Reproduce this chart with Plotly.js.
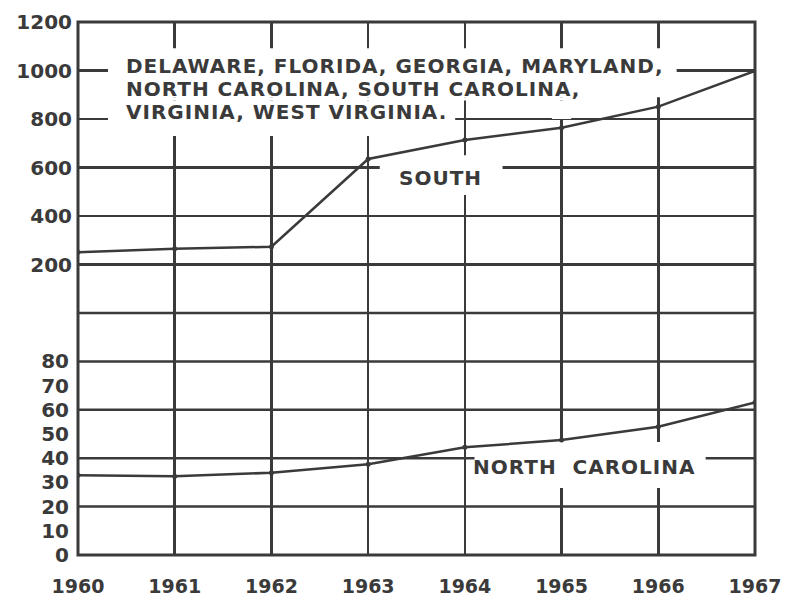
<!DOCTYPE html>
<html>
<head>
<meta charset="utf-8">
<script src="https://cdn.plot.ly/plotly-3.0.1.min.js"></script>
<style>html,body{margin:0;padding:0;background:#fff;}#chart{width:786px;height:600px;}
.annotation-text{letter-spacing:1px;}</style>
</head>
<body>
<div id="chart"></div>
<script>
// ---- data ----
const years = [1960, 1961, 1962, 1963, 1964, 1965, 1966, 1967];
const southValues = [251, 265, 273, 635, 713, 764, 851, 998];
const northCarolinaValues = [33, 32.5, 34, 37.5, 44.5, 47.5, 53, 63];
const upperTicks = [200, 400, 600, 800, 1000, 1200];
const lowerTicks = [0, 10, 20, 30, 40, 50, 60, 70, 80];
const lowerGrid = [20, 40, 60, 80];
const statesLines = ["DELAWARE, FLORIDA, GEORGIA, MARYLAND,", "NORTH CAROLINA, SOUTH CAROLINA,", "VIRGINIA, WEST VIRGINIA."];

const ink = '#3a3a3a';
const fontBase = {family: 'DejaVu Sans', size: 20, color: ink, weight: 'bold'};
const xFont = {family: 'DejaVu Sans', size: 19, color: ink, weight: 'bold'};

const traces = [
  {x: years, y: southValues, xaxis: 'x', yaxis: 'y2', mode: 'lines+markers',
   line: {color: ink, width: 2.5}, marker: {color: ink, size: 5}, hoverinfo: 'skip'},
  {x: years, y: northCarolinaValues, xaxis: 'x', yaxis: 'y', mode: 'lines+markers',
   line: {color: ink, width: 2.5}, marker: {color: ink, size: 5}, hoverinfo: 'skip'}
];

const split = 242 / 533;
const textFont = {family: 'DejaVu Sans', size: 20, color: ink, weight: 'bold'};

const annotations = [
  {text: statesLines[0], x: 1960.48, y: 1018, xref: 'x', yref: 'y2', xanchor: 'left', yanchor: 'middle',
   showarrow: false, font: textFont},
  {text: statesLines[1], x: 1960.48, y: 923, xref: 'x', yref: 'y2', xanchor: 'left', yanchor: 'middle',
   showarrow: false, font: textFont},
  {text: statesLines[2], x: 1960.48, y: 828, xref: 'x', yref: 'y2', xanchor: 'left', yanchor: 'middle',
   showarrow: false, font: textFont},
  {text: 'SOUTH', x: 1963.75, y: 557, xref: 'x', yref: 'y2', xanchor: 'center', yanchor: 'middle',
   showarrow: false, font: textFont},
  {text: 'NORTH&nbsp;&nbsp;CAROLINA', x: 1965.24, y: 36.3, xref: 'x', yref: 'y', xanchor: 'center', yanchor: 'middle',
   showarrow: false, font: textFont}
];

// white gaps behind labels (between gridlines and traces)
const gap = (x0, x1, y0, y1, yref) => ({type: 'rect', xref: 'x', yref: yref, x0, x1, y0, y1,
  fillcolor: '#fff', line: {width: 0}, layer: 'between'});

const shapes = lowerGrid.map(v => ({type: 'line', xref: 'paper', yref: 'y', x0: 0, x1: 1, y0: v, y1: v,
  line: {color: ink, width: 2.5}, layer: 'below'}));
shapes.push({type: 'line', xref: 'paper', yref: 'paper', x0: 0, x1: 1, y0: split, y1: split,
  line: {color: ink, width: 2.5}, layer: 'below'});
shapes.push(gap(1960.31, 1966.19, 969, 1092, 'y2'));
shapes.push(gap(1960.31, 1966.12, 890, 969, 'y2'));
shapes.push(gap(1960.31, 1965.55, 876, 890, 'y2'));
shapes.push(gap(1964.90, 1965.10, 800, 876, 'y2'));
shapes.push(gap(1960.31, 1963.90, 730, 876, 'y2'));
shapes.push(gap(1963.12, 1964.39, 487, 651, 'y2'));
shapes.push(gap(1964.10, 1966.49, 27.7, 46.7, 'y'));
shapes.push({type: 'rect', xref: 'paper', yref: 'paper', x0: 0, x1: 1, y0: 0, y1: 1,
  line: {color: ink, width: 3}, layer: 'above'});

const layout = {
  width: 786, height: 600,
  margin: {l: 78, r: 31, t: 22, b: 45},
  paper_bgcolor: '#fff', plot_bgcolor: 'rgba(0,0,0,0)',
  showlegend: false,
  xaxis: {range: [1960, 1967], tickvals: years, ticktext: years.map(String), showgrid: true,
          gridcolor: ink, gridwidth: 2.5, zeroline: false, ticks: '', ticklabelstandoff: 18,
          tickfont: xFont, anchor: 'y', fixedrange: true},
  yaxis: {domain: [0, split], range: [0, 100], tickvals: lowerTicks, ticktext: lowerTicks.map(String),
          showgrid: false, zeroline: false, ticks: '', ticklabelstandoff: 8, tickfont: fontBase,
          anchor: 'x', fixedrange: true},
  yaxis2: {domain: [split, 1], range: [0, 1200], tickvals: upperTicks, ticktext: upperTicks.map(String),
           showgrid: true, gridcolor: ink, gridwidth: 2.5, zeroline: false, ticks: '',
           ticklabelstandoff: 5, tickfont: fontBase, anchor: 'x', fixedrange: true},
  annotations: annotations,
  shapes: shapes
};

Plotly.newPlot('chart', traces, layout, {staticPlot: true});
</script>
</body>
</html>
